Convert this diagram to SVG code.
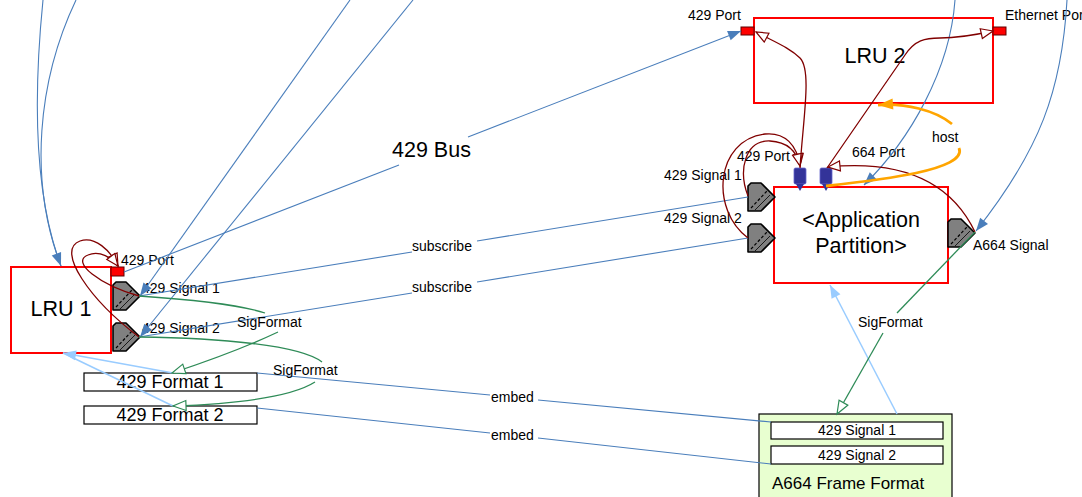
<svg xmlns="http://www.w3.org/2000/svg" xmlns:xlink="http://www.w3.org/1999/xlink" width="1082" height="497" viewBox="0 0 1082 497">
<style>
text{font-family:"Liberation Sans",Arial,sans-serif;fill:#000}
.lbl{font-size:14px}
.big{font-size:21.5px;text-anchor:middle}
.fmt{font-size:18px;text-anchor:middle}
.box{fill:#fff;stroke:#ff0000;stroke-width:2}
.port{fill:#ff0000;stroke:#600000;stroke-width:1}
.bport{fill:#333399;stroke:#6666cc;stroke-width:0.8}
.blue{fill:none;stroke:#4a7ebb;stroke-width:1.1}
.lblue{fill:none;stroke:#99ccff;stroke-width:1.5}
.red{fill:none;stroke:#800000;stroke-width:1.3}
.green{fill:none;stroke:#2e8b57;stroke-width:1.3}
.orange{fill:none;stroke:#ffa500;stroke-width:2.8}
.thin{fill:#fff;stroke:#000;stroke-width:1.2}
</style>
<defs>
<marker id="aBlue" markerUnits="userSpaceOnUse" markerWidth="14" markerHeight="10" refX="13" refY="5" orient="auto" overflow="visible"><path d="M0,0 L13,5 L0,10 z" fill="#4a7ebb"/></marker>
<marker id="aLB" markerUnits="userSpaceOnUse" markerWidth="14" markerHeight="10" refX="13" refY="5" orient="auto" overflow="visible"><path d="M0,0 L13,5 L0,10 z" fill="#99ccff"/></marker>
<marker id="aOr" markerUnits="userSpaceOnUse" markerWidth="16" markerHeight="11" refX="15" refY="5.5" orient="auto" overflow="visible"><path d="M0,0 L15,5.5 L0,11 z" fill="#ffa500"/></marker>
<marker id="hRed" markerUnits="userSpaceOnUse" markerWidth="13" markerHeight="10" refX="12" refY="5" orient="auto" overflow="visible"><path d="M0,0 L12,5 L0,10 z" fill="#fff" stroke="#800000" stroke-width="1.2"/></marker>
<marker id="hGreen" markerUnits="userSpaceOnUse" markerWidth="14" markerHeight="10" refX="13" refY="5" orient="auto" overflow="visible"><path d="M0,0 L13,5 L0,10 z" fill="#fff" stroke="#2e8b57" stroke-width="1.2"/></marker>
<g id="sig">
<path d="M0,3 L3,0 L13,0 L27,14 L13,28 L0,28 Z" fill="#808080" stroke="#000" stroke-width="1.6" stroke-linejoin="round"/>
<path d="M3,25 L19,8" stroke="#000" stroke-width="1.2" stroke-dasharray="3,2" fill="none"/>
<path d="M7,27 L22,12" stroke="#000" stroke-width="0.8" fill="none"/>
</g>
</defs>
<rect width="1082" height="497" fill="#fff"/>

<g id="a664-frame-format">
<rect x="759" y="414" width="193" height="90" fill="#e8ffd0" stroke="#000" stroke-width="1.2"/>
<rect class="thin" x="771" y="422" width="172" height="17"/>
<text class="lbl" x="857" y="435" text-anchor="middle">429 Signal 1</text>
<rect class="thin" x="771" y="446" width="172" height="18"/>
<text class="lbl" x="857" y="460" text-anchor="middle">429 Signal 2</text>
<text x="772" y="489" style="font-size:17px">A664 Frame Format</text>
</g>

<g id="lru1">
<rect class="box" x="11" y="267" width="100" height="86"/>
<text class="big" x="61" y="316">LRU 1</text>
</g>
<g id="lru1-429-port">
<rect class="port" x="111" y="267" width="13" height="9"/>
<text class="lbl" x="121" y="265">429 Port</text>
</g>
<g id="lru1-429-signal-1">
<use xlink:href="#sig" x="113" y="282"/>
<text class="lbl" x="142" y="293">429 Signal 1</text>
</g>
<g id="lru1-429-signal-2">
<use xlink:href="#sig" x="113" y="323"/>
<text class="lbl" x="142" y="333">429 Signal 2</text>
</g>

<g id="format1">
<rect class="thin" x="84" y="373" width="173" height="18"/>
<text class="fmt" x="170" y="388">429 Format 1</text>
</g>
<g id="format2">
<rect class="thin" x="84" y="406" width="173" height="18"/>
<text class="fmt" x="170" y="421">429 Format 2</text>
</g>

<g id="lru2">
<rect class="box" x="754" y="18" width="239" height="85"/>
<text class="big" x="875" y="63">LRU 2</text>
</g>
<g id="lru2-429-port">
<rect class="port" x="741" y="27" width="13" height="8"/>
<text class="lbl" x="688" y="20">429 Port</text>
</g>
<g id="lru2-ethernet-port">
<rect class="port" x="993" y="27" width="13" height="8"/>
<text class="lbl" x="1005" y="20">Ethernet Port</text>
</g>

<g id="app-partition">
<rect class="box" x="774" y="187" width="174" height="96"/>
<text class="big" x="861" y="227">&lt;Application</text>
<text class="big" x="861" y="253">Partition&gt;</text>
</g>
<g id="ap-429-port">
<rect class="bport" x="794" y="168" width="12" height="16" rx="1.5"/>
<path d="M796,184 L804,184 L800,191 Z" fill="#333399"/>
<text class="lbl" x="737" y="161">429 Port</text>
</g>
<g id="ap-664-port">
<rect class="bport" x="820" y="168" width="12" height="16" rx="1.5"/>
<path d="M822,184 L830,184 L826,191 Z" fill="#333399"/>
<text class="lbl" x="852" y="157">664 Port</text>
</g>
<g id="ap-429-signal-1">
<use xlink:href="#sig" x="748" y="183"/>
<text class="lbl" x="664" y="180">429 Signal 1</text>
</g>
<g id="ap-429-signal-2">
<use xlink:href="#sig" x="748" y="224"/>
<text class="lbl" x="664" y="223">429 Signal 2</text>
</g>
<g id="ap-a664-signal">
<use xlink:href="#sig" x="948" y="219"/>
<text class="lbl" x="973" y="250">A664 Signal</text>
</g>

<g id="connectors">
<!-- blue -->
<path class="blue" d="M43,0 C32,110 36,200 61,266" marker-end="url(#aBlue)"/>
<path class="blue" d="M76,0 C38,80 28,180 61,266"/>
<path class="blue" d="M350,0 L140,296" marker-end="url(#aBlue)"/>
<path class="blue" d="M413,0 L140,337" marker-end="url(#aBlue)"/>
<path class="blue" d="M124,272 L399,165"/>
<path class="blue" d="M468,137 L741,31" marker-end="url(#aBlue)"/>
<text x="392" y="157" style="font-size:21.5px">429 Bus</text>
<path class="blue" d="M139,296 L412,252"/>
<path class="blue" d="M477,241 L748,197"/>
<text class="lbl" x="412" y="251">subscribe</text>
<path class="blue" d="M139,337 L412,293"/>
<path class="blue" d="M477,282 L748,238"/>
<text class="lbl" x="412" y="292">subscribe</text>
<path class="blue" d="M257,373 L490,395"/>
<path class="blue" d="M538,400 L771,422"/>
<text class="lbl" x="491" y="402">embed</text>
<path class="blue" d="M257,408 L490,433"/>
<path class="blue" d="M538,438 L771,464"/>
<text class="lbl" x="491" y="440">embed</text>
<path class="blue" d="M955,0 C950,70 910,140 864,185" marker-end="url(#aBlue)"/>
<path class="blue" d="M1067,0 C1062,90 1040,150 976,231" marker-end="url(#aBlue)"/>
<!-- light blue -->
<path class="lblue" d="M173,373 L63,353" marker-end="url(#aLB)"/>
<path class="lblue" d="M173,406 L63,353"/>
<path class="lblue" d="M897,414 L830,285" marker-end="url(#aLB)"/>
<!-- dark red -->
<path class="red" d="M139,337 C90,300 55,250 80,241 C95,236 110,250 118,266" marker-end="url(#hRed)"/>
<path class="red" d="M139,296 C100,285 70,262 88,255 C100,250 112,258 118,266" marker-end="url(#hRed)"/>
<path class="red" d="M748,238 C710,210 715,140 765,134 C785,132 797,145 800,166" marker-end="url(#hRed)"/>
<path class="red" d="M748,196 C738,170 745,140 770,141 C788,142 797,152 800,166" marker-end="url(#hRed)"/>
<path class="red" d="M800,168 C803,120 812,70 800,58 C790,48 775,42 756,32" marker-end="url(#hRed)"/>
<path class="red" d="M827,168 L905,55 C915,40 925,38 940,38 C960,38 975,35 993,31" marker-end="url(#hRed)"/>
<path class="red" d="M975,232 C950,180 900,160 828,167" marker-end="url(#hRed)"/>
<!-- green -->
<path class="green" d="M139,296 C200,300 240,305 265,313"/>
<path class="green" d="M278,332 C240,350 205,362 172,373" marker-end="url(#hGreen)"/>
<text class="lbl" x="237" y="327">SigFormat</text>
<path class="green" d="M139,337 C220,338 300,345 322,362"/>
<path class="green" d="M315,382 C290,398 230,404 173,406" marker-end="url(#hGreen)"/>
<text class="lbl" x="273" y="375">SigFormat</text>
<path class="green" d="M975,232 L897,313"/>
<path class="green" d="M883,333 L837,414" marker-end="url(#hGreen)"/>
<text class="lbl" x="858" y="327">SigFormat</text>
<!-- orange host -->
<path class="orange" d="M826,186 C880,180 968,170 959,148"/>
<path class="orange" d="M952,124 C935,110 905,103 878,105" marker-end="url(#aOr)"/>
<text class="lbl" x="932" y="142">host</text>
</g>
</svg>
